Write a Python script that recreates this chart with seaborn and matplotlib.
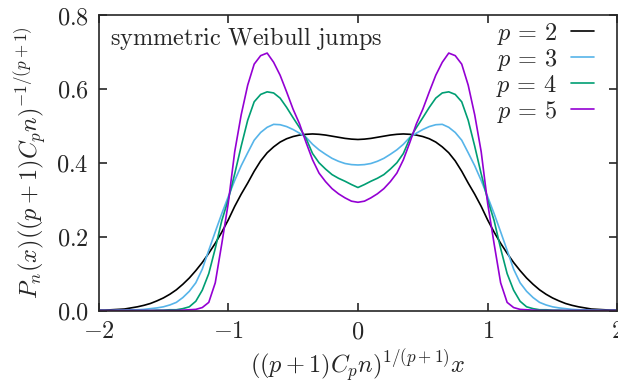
import numpy as np
import pandas as pd
import seaborn as sns
import matplotlib
matplotlib.use("Agg")
import matplotlib.pyplot as plt

# grid of the rescaled coordinate, step 0.05 from -2 to 2
x_vals = np.round(np.arange(-2.0, 2.0001, 0.05), 2)

p_labels = [r"$p\,=\,2$", r"$p\,=\,3$", r"$p\,=\,4$", r"$p\,=\,5$"]
colors = ["#000000", "#56b4e9", "#009e73", "#9400d3"]

# p = 2
p2 = [0.001, 0.001, 0.002, 0.003, 0.004, 0.007, 0.010, 0.014, 0.019, 0.026,
      0.034, 0.044, 0.056, 0.071, 0.088, 0.108, 0.130, 0.155, 0.182, 0.212,
      0.245, 0.282, 0.315, 0.345, 0.377, 0.405, 0.427, 0.443, 0.456, 0.465,
      0.471, 0.475, 0.477, 0.478, 0.477, 0.475, 0.472, 0.469, 0.466, 0.464,
      0.463,
      0.464, 0.466, 0.469, 0.472, 0.475, 0.477, 0.478, 0.477, 0.475, 0.471,
      0.465, 0.456, 0.443, 0.427, 0.405, 0.377, 0.345, 0.315, 0.282, 0.245,
      0.212, 0.182, 0.155, 0.130, 0.108, 0.088, 0.071, 0.056, 0.044, 0.034,
      0.026, 0.019, 0.014, 0.010, 0.007, 0.004, 0.003, 0.002, 0.001, 0.001]

# p = 3
p3 = [0.000, 0.000, 0.000, 0.001, 0.001, 0.002, 0.002, 0.003, 0.005, 0.007,
      0.010, 0.015, 0.022, 0.035, 0.052, 0.075, 0.112, 0.163, 0.213, 0.262,
      0.308, 0.352, 0.392, 0.427, 0.461, 0.482, 0.496, 0.504, 0.503, 0.498,
      0.490, 0.480, 0.469, 0.450, 0.435, 0.423, 0.412, 0.404, 0.398, 0.395,
      0.394,
      0.395, 0.398, 0.404, 0.412, 0.423, 0.435, 0.450, 0.469, 0.480, 0.490,
      0.498, 0.503, 0.504, 0.496, 0.482, 0.461, 0.427, 0.392, 0.352, 0.308,
      0.262, 0.213, 0.163, 0.112, 0.075, 0.052, 0.035, 0.022, 0.015, 0.010,
      0.007, 0.005, 0.003, 0.002, 0.002, 0.001, 0.001, 0.000, 0.000, 0.000]

# p = 4
p4 = [0.000, 0.000, 0.000, 0.000, 0.000, 0.000, 0.000, 0.000, 0.000, 0.001,
      0.001, 0.002, 0.002, 0.005, 0.010, 0.025, 0.055, 0.100, 0.168, 0.243,
      0.300, 0.370, 0.445, 0.515, 0.565, 0.585, 0.592, 0.589, 0.575, 0.550,
      0.522, 0.495, 0.466, 0.425, 0.400, 0.383, 0.368, 0.358, 0.350, 0.341,
      0.333,
      0.341, 0.350, 0.358, 0.368, 0.383, 0.400, 0.425, 0.466, 0.495, 0.522,
      0.550, 0.575, 0.589, 0.592, 0.585, 0.565, 0.515, 0.445, 0.370, 0.300,
      0.243, 0.168, 0.100, 0.055, 0.025, 0.010, 0.005, 0.002, 0.002, 0.001,
      0.001, 0.000, 0.000, 0.000, 0.000, 0.000, 0.000, 0.000, 0.000, 0.000]

# p = 5
p5 = [0.000, 0.000, 0.000, 0.000, 0.000, 0.000, 0.000, 0.000, 0.000, 0.000,
      0.000, 0.000, 0.000, 0.001, 0.002, 0.003, 0.008, 0.022, 0.075, 0.180,
      0.290, 0.430, 0.530, 0.610, 0.667, 0.690, 0.697, 0.672, 0.637, 0.592,
      0.545, 0.505, 0.455, 0.408, 0.372, 0.349, 0.330, 0.316, 0.305, 0.296,
      0.293,
      0.296, 0.305, 0.316, 0.330, 0.349, 0.372, 0.408, 0.455, 0.505, 0.545,
      0.592, 0.637, 0.672, 0.697, 0.690, 0.667, 0.610, 0.530, 0.430, 0.290,
      0.180, 0.075, 0.022, 0.008, 0.003, 0.002, 0.001, 0.000, 0.000, 0.000,
      0.000, 0.000, 0.000, 0.000, 0.000, 0.000, 0.000, 0.000, 0.000, 0.000]

x_ticks = [-2, -1, 0, 1, 2]
x_tick_labels = [r"$-2$", r"$-1$", r"$0$", r"$1$", r"$2$"]
y_ticks = [0.0, 0.2, 0.4, 0.6, 0.8]
y_tick_labels = [r"$0.0$", r"$0.2$", r"$0.4$", r"$0.6$", r"$0.8$"]

FS = 17.5

sns.set_style("ticks")
plt.rcParams["mathtext.fontset"] = "cm"
plt.rcParams["font.family"] = ["DejaVu Serif"]

frames = []
for lab, vals in zip(p_labels, [p2, p3, p4, p5]):
    frames.append(pd.DataFrame({"x": x_vals, "y": vals, "p": lab}))
df = pd.concat(frames, ignore_index=True)

fig = plt.figure(figsize=(6.18, 3.85), dpi=100)
ax = fig.add_axes([0.1594, 0.1935, 0.8396, 0.7675])

sns.lineplot(data=df, x="x", y="y", hue="p", palette=colors, ax=ax,
             linewidth=1.2, legend=True)

ax.set_xlim(-2, 2)
ax.set_ylim(0, 0.8)
ax.set_xticks(x_ticks)
ax.set_xticklabels(x_tick_labels, fontsize=FS)
ax.set_yticks(y_ticks)
ax.set_yticklabels(y_tick_labels, fontsize=FS)
ax.tick_params(direction="in", length=6, width=1.2, top=True, right=True,
               pad=7)
for s in ax.spines.values():
    s.set_linewidth(1.2)
    s.set_visible(True)

ax.set_xlabel(r"$((p+1)C_p n)^{1/(p+1)} x$", fontsize=FS, labelpad=3)
ax.set_ylabel(r"$P_n(x)((p+1)C_p n)^{-1/(p+1)}$", fontsize=FS, labelpad=5)

ax.text(0.022, 0.898, r"$\mathrm{symmetric\ Weibull\ jumps}$",
        transform=ax.transAxes, fontsize=FS, va="baseline", ha="left")

handles, labels = ax.get_legend_handles_labels()
ax.legend(handles, labels, loc="upper right", bbox_to_anchor=(0.955, 0.98),
          frameon=False, markerfirst=False, fontsize=FS, handlelength=0.95,
          handletextpad=0.55, labelspacing=0.0, borderpad=0, borderaxespad=0)

fig.savefig("out.png", dpi=100)
